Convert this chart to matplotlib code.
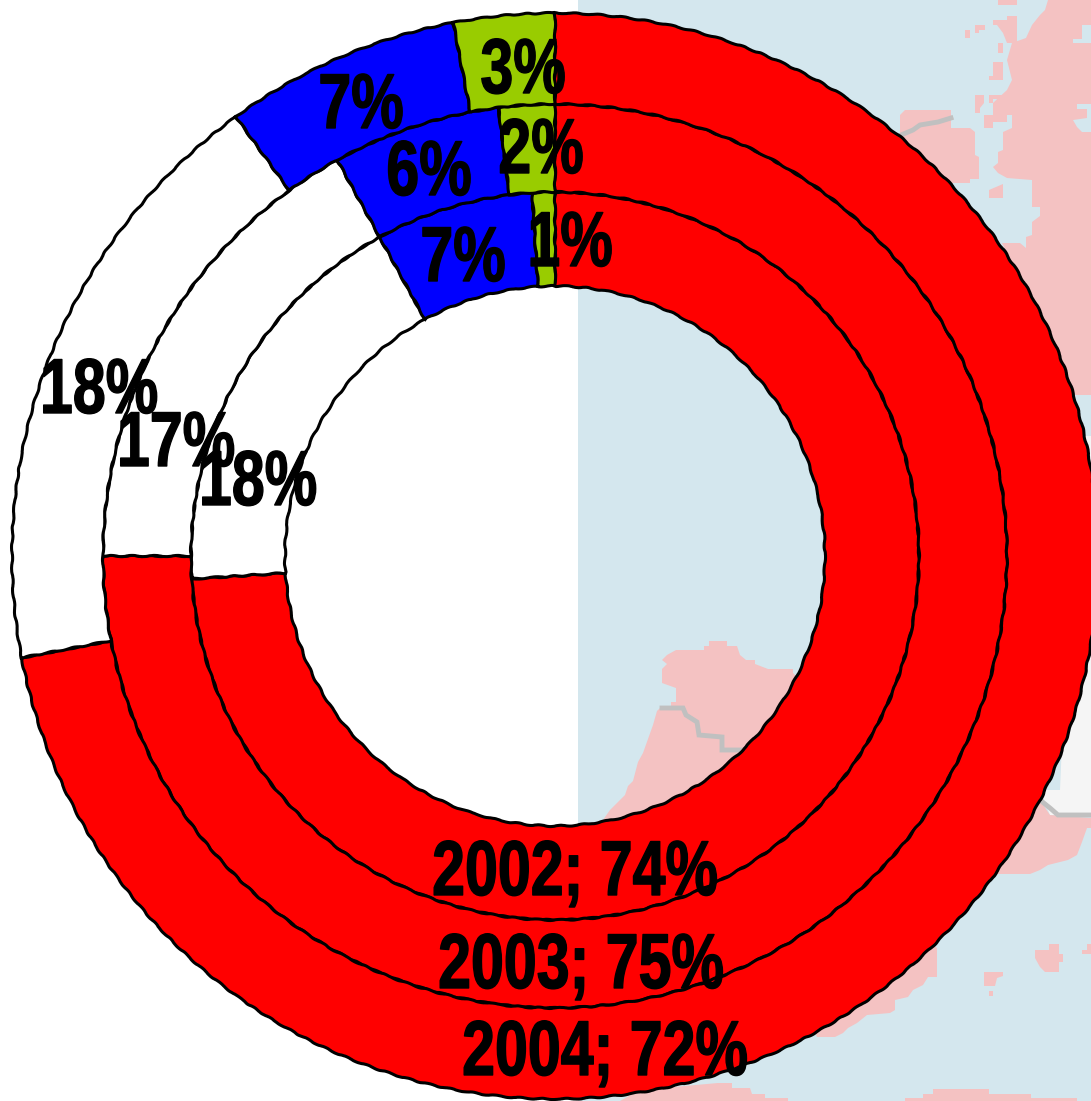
import matplotlib
matplotlib.use("Agg")
import matplotlib.pyplot as plt
from matplotlib.patheffects import AbstractPathEffect
from matplotlib.transforms import Affine2D

# values per ring, clockwise from the top: red, white, blue, green
years = ["2002", "2003", "2004"]
pct_2002 = [74, 18, 7, 1]
pct_2003 = [75, 17, 6, 2]
pct_2004 = [72, 18, 7, 3]
colors = ["#ff0000", "#ffffff", "#0000ff", "#99cc00"]

W, H = 1091, 1101
SEA = "#d4e7ee"
LAND = "#f4c2c2"
GREY = "#c0c0c0"


def px(points):
    # image pixels (y down) to axes coords (y up)
    return [p[0] for p in points], [H - p[1] for p in points]


class Squeeze(AbstractPathEffect):
    # no narrow bold font here, so squeeze the glyphs around the text centre
    def __init__(self, cx, factor):
        super().__init__()
        self.cx = cx
        self.factor = factor

    def draw_path(self, renderer, gc, tpath, affine, rgbFace=None):
        squeeze = Affine2D().translate(-self.cx, 0).scale(self.factor, 1).translate(self.cx, 0)
        gc0 = renderer.new_gc()
        gc0.copy_properties(gc)
        gc0.set_foreground("black")
        gc0.set_linewidth(1.0)
        renderer.draw_path(gc0, tpath, affine + squeeze, rgbFace)
        gc0.restore()


fig = plt.figure(figsize=(W / 100, H / 100), dpi=100, facecolor="white")
ax = fig.add_axes([0, 0, 1, 1])

# map behind the chart, right of x=578
sea = [(578, 0), (1091, 0), (1091, 1101), (578, 1101)]
ax.fill(*px(sea), color=SEA, lw=0, zorder=0)
offwhite = [(1040, 790), (1060, 790), (1075, 436), (1091, 436), (1091, 815), (1050, 815)]
ax.fill(*px(offwhite), color="#f5f5f5", lw=0, zorder=1)

land = [
    # big mass top right
    [(1048, 0), (1045, 10), (1040, 15), (1032, 25), (1026, 38), (1012, 43), (1007, 60), (1012, 80),
     (1007, 90), (993, 103), (993, 115), (1012, 115), (1012, 128), (1003, 132), (1003, 150), (998, 152),
     (998, 163), (993, 167), (998, 173), (1007, 178), (1032, 180), (1032, 207), (1040, 207), (1040, 216),
     (1032, 222), (1032, 235), (1026, 237), (1026, 248), (1020, 243), (1002, 243), (1075, 395), (1091, 395), (1091, 0)],
    # north coast piece
    [(900, 115), (905, 110), (951, 110), (951, 128), (970, 128), (975, 132), (975, 155), (979, 157),
     (979, 179), (970, 179), (970, 183), (952, 183), (900, 140)],
    # islands, top right
    [(998, 0), (1017, 0), (1017, 5), (998, 5)],
    [(993, 20), (1007, 20), (1007, 16), (1017, 16), (1017, 43), (1007, 43), (1003, 33), (997, 25), (993, 25)],
    [(965, 30), (970, 30), (970, 38), (965, 38)],
    [(975, 25), (985, 25), (985, 30), (979, 30), (979, 33), (975, 33)],
    [(998, 43), (1003, 43), (1003, 53), (998, 53)],
    [(993, 62), (1003, 62), (1003, 80), (989, 80), (989, 76), (993, 76)],
    [(975, 95), (984, 95), (984, 103), (980, 108), (980, 113), (975, 113)],
    [(989, 95), (1003, 95), (1003, 99), (993, 99), (993, 103), (989, 103)],
    [(984, 115), (1007, 115), (1007, 122), (993, 122), (993, 128), (984, 128)],
    [(989, 190), (1003, 184), (1003, 198), (989, 198)],
    # inside the hole
    [(709, 641), (727, 641), (727, 646), (737, 646), (740, 655), (746, 660), (755, 660), (755, 664),
     (768, 669), (793, 669), (793, 673), (810, 690), (760, 780), (650, 825), (600, 825), (605, 817),
     (610, 810), (615, 805), (620, 800), (625, 795), (628, 786), (633, 781), (638, 762), (643, 753),
     (648, 739), (653, 725), (657, 711), (662, 706), (671, 706), (671, 702), (676, 702), (676, 688),
     (662, 683), (662, 669), (667, 664), (662, 660), (667, 655), (676, 650), (704, 650), (704, 646), (709, 646)],
    # south east, below the off-white part
    [(1040, 800), (1050, 815), (1091, 818), (1091, 828), (1087, 828), (1082, 842), (1077, 855), (1068, 860),
     (1048, 865), (1040, 870), (1030, 874), (998, 874), (980, 860)],
    [(937, 948), (937, 977), (928, 977), (923, 985), (913, 990), (908, 997), (895, 1000), (895, 1010),
     (890, 1013), (867, 1015), (857, 1023), (848, 1028), (843, 1033), (835, 1037), (817, 1037), (800, 1000), (900, 920)],
    [(1049, 944), (1059, 944), (1059, 954), (1063, 954), (1063, 962), (1059, 962), (1059, 972), (1045, 972),
     (1040, 967), (1035, 958), (1035, 950), (1049, 950)],
    [(984, 972), (1003, 972), (1003, 976), (997, 978), (995, 986), (984, 986)],
    [(989, 991), (993, 991), (993, 996), (989, 996)],
    [(1087, 944), (1091, 944), (1091, 954), (1082, 954), (1082, 950), (1087, 950)],
    # bottom edge
    [(620, 1101), (640, 1090), (718, 1083), (732, 1083), (732, 1088), (750, 1088), (752, 1094), (765, 1094),
     (765, 1098), (788, 1098), (788, 1101)],
    [(905, 1101), (905, 1098), (923, 1098), (923, 1094), (933, 1094), (933, 1089), (989, 1089), (989, 1094),
     (1031, 1094), (1031, 1098), (1077, 1098), (1077, 1101)],
]
for poly in land:
    ax.fill(*px(poly), color=LAND, lw=0, zorder=1)

# sea pockets in the big mass
pockets = [
    [(1082, 25), (1091, 25), (1091, 43), (1073, 43), (1073, 39), (1082, 39)],
    [(1077, 104), (1091, 104), (1091, 132), (1082, 132), (1077, 127), (1073, 120), (1087, 118), (1087, 109), (1077, 109)],
]
for poly in pockets:
    ax.fill(*px(poly), color=SEA, lw=0, zorder=1)

# borders
borders = [
    [(901, 135), (913, 130), (920, 125), (938, 122), (951, 118)],
    [(662, 708), (683, 708), (686, 715), (697, 722), (699, 735), (722, 737), (722, 750), (742, 750)],
    [(1040, 800), (1050, 808), (1058, 815), (1091, 815)],
]
for line in borders:
    ax.plot(*px(line), color=GREY, lw=3.5, solid_joinstyle="miter", zorder=2)

# rings, inner to outer
center = (555, H - 556)
rings = [pct_2002, pct_2003, pct_2004]
radii = [364, 452, 543]
inner = [270, 364, 452]
for vals, r, r0 in zip(rings, radii, inner):
    wedges, _ = ax.pie(vals, colors=colors, center=center, radius=r, startangle=90, counterclock=False,
                       frame=True, wedgeprops=dict(width=r - r0, edgecolor="black", linewidth=2.2))
    for w in wedges:
        w.set_zorder(3)
        w.set_sketch_params(scale=0.6, length=24, randomness=2)

# labels sit where the source put them, with the overlaps: centre x, baseline y
label_pos = [
    [(575, 895), (258, 505), (463, 281), (570, 266)],
    [(581, 988), (176, 466), (429, 195), (541, 173)],
    [(605, 1075), (99, 413), (361, 128), (523, 93)],
]
for year, vals, positions in zip(years, rings, label_pos):
    for i, (v, pos) in enumerate(zip(vals, positions)):
        txt = f"{year}; {v}%" if i == 0 else f"{v}%"
        t = ax.text(pos[0], H - pos[1], txt, ha="center", va="baseline", fontsize=56, fontweight="bold",
                    family="Liberation Sans", color="black", zorder=5)
        t.set_path_effects([Squeeze(pos[0], 0.76)])

ax.set_xlim(0, W)
ax.set_ylim(0, H)
ax.set_aspect("auto")
ax.axis("off")

fig.savefig("out.png", dpi=100, facecolor="white")
